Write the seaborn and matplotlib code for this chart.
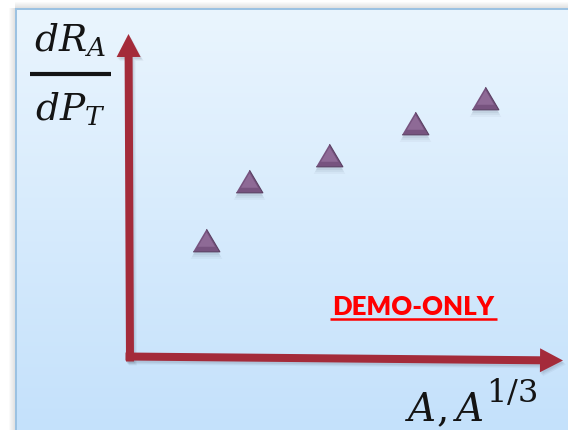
import numpy as np
import matplotlib
matplotlib.use("Agg")
import matplotlib.pyplot as plt
import seaborn as sns
import pandas as pd
from matplotlib.patches import FancyArrow
from matplotlib import transforms

sns.set_theme(style="white")
plt.rcParams["mathtext.fontset"] = "dejavuserif"
plt.rcParams["font.family"] = ["Lato", "DejaVu Sans"]

# Measured slope dR_A/dP_T against nuclear size (arbitrary units)
nuclear_size = [0.76, 1.19, 1.99, 2.85, 3.55]
slope = [1.18, 1.77, 2.03, 2.35, 2.60]

numerator = r"$dR_A$"
denominator = r"$dP_T$"
x_label_base = r"$A, A$"
x_label_power = r"$1/3$"
stamp = "DEMO-ONLY"

df = pd.DataFrame({"size": nuclear_size, "slope": slope})

W, H = 568, 431
fig = plt.figure(figsize=(W / 100, H / 100), dpi=100)

# Full-figure canvas in pixel units for the panel, arrows and labels
bg = fig.add_axes([0, 0, 1, 1])
bg.set_xlim(0, W)
bg.set_ylim(H, 0)
bg.axis("off")

img = np.ones((H, W, 3))
px0, py0 = 15, 9
top_c = np.array([0xEA, 0xF5, 0xFE]) / 255
bot_c = np.array([0xC4, 0xE1, 0xFB]) / 255
t = np.clip((np.arange(H) - py0) / (H - py0), 0, 1)[:, None]
grad = top_c * (1 - t) + bot_c * t
img[py0:, px0:, :] = grad[py0:, None, :]
# soft drop shadow around the panel
for k in range(1, 7):
    shade = 1 - 0.13 * (1 - k / 7)
    img[py0:, px0 - k] = np.minimum(img[py0:, px0 - k], shade)
    img[py0 - k, px0:] = np.minimum(img[py0 - k, px0:], shade)
border = np.array([0x9C, 0xC2, 0xE2]) / 255
img[py0:py0 + 2, px0:] = border
img[py0:, px0:px0 + 2] = border
bg.imshow(img, extent=(0, W, H, 0), interpolation="bilinear", aspect="auto", zorder=0)

# Data axes: origin sits at the corner of the two arrows
ox, oy, xr, yt = 130, 359, 563, 35
ax = fig.add_axes([ox / W, (H - oy) / H, (xr - ox) / W, (oy - yt) / H])
ax.axis("off")
ax.patch.set_alpha(0)

# Axis arrows with a faint shadow
arrow_kw = dict(width=8, head_width=24, head_length=23, length_includes_head=True, linewidth=0)
for dx, dy, a in [(3, 4, 0.06), (2, 3, 0.08), (1, 2, 0.10)]:
    bg.add_patch(FancyArrow(130 + dx, 362.5 + dy, -1.5, 35 - 362.5, color="#50586A", alpha=a, zorder=1, **arrow_kw))
    bg.add_patch(FancyArrow(125.5 + dx, 357.5 + dy, 563 - 125.5, 4, color="#50586A", alpha=a, zorder=1, **arrow_kw))
bg.add_patch(FancyArrow(130, 362.5, -1.5, 35 - 362.5, color="#A42B3A", zorder=2, **arrow_kw))
bg.add_patch(FancyArrow(125.5, 357.5, 563 - 125.5, 4, color="#A42B3A", zorder=2, **arrow_kw))

# Triangle markers: soft shadow, body, lighter bevel
tri = [(-1.18, -1.0), (1.18, -1.0), (0.0, 1.0)]
for off, s, a in [(-5, 520, 0.05), (-4, 440, 0.07), (-3, 380, 0.08)]:
    tr = transforms.offset_copy(ax.transData, fig=fig, x=0, y=off, units="dots")
    sns.scatterplot(data=df, x="size", y="slope", ax=ax, marker=tri, s=s, color="#4A5870",
                    alpha=a, linewidth=0, transform=tr, zorder=3, legend=False)
sns.scatterplot(data=df, x="size", y="slope", ax=ax, marker=tri, s=370, color="#77537F",
                edgecolor="#5A3F62", linewidth=0.8, zorder=4, legend=False)
tr_up = transforms.offset_copy(ax.transData, fig=fig, x=0, y=1.5, units="dots")
sns.scatterplot(data=df, x="size", y="slope", ax=ax, marker=tri, s=150, color="#95719D",
                linewidth=0, alpha=0.8, transform=tr_up, zorder=5, legend=False)
ax.set_xlim(0, (xr - ox) / 100)
ax.set_ylim(0, (oy - yt) / 100)

# y-axis label as a stacked fraction
ink = "#141414"
bg.text(70, 51, numerator, fontsize=27, ha="center", va="baseline", color=ink, zorder=6)
bg.plot([30, 111], [75, 75], color=ink, lw=3, solid_capstyle="butt", zorder=6)
bg.text(70, 120, denominator, fontsize=27, ha="center", va="baseline", color=ink, zorder=6)

# x-axis label with a full-size exponent
base = bg.text(405, 421, x_label_base, fontsize=28, ha="left", va="baseline", color=ink, zorder=6)
fig.canvas.draw()
x_end = bg.transData.inverted().transform(
    base.get_window_extent(fig.canvas.get_renderer()))[1, 0]
bg.text(x_end + 2, 402, x_label_power, fontsize=23, ha="left", va="baseline", color=ink, zorder=6)

# Underlined stamp
bg.text(413.5, 315, stamp, fontsize=18.5, fontweight="heavy", color="#FF0000", ha="center",
        va="baseline", zorder=6)
bg.plot([330, 497], [319.5, 319.5], color="#FF0000", lw=1.8, solid_capstyle="butt", zorder=6)

fig.savefig("out.png", dpi=100)
